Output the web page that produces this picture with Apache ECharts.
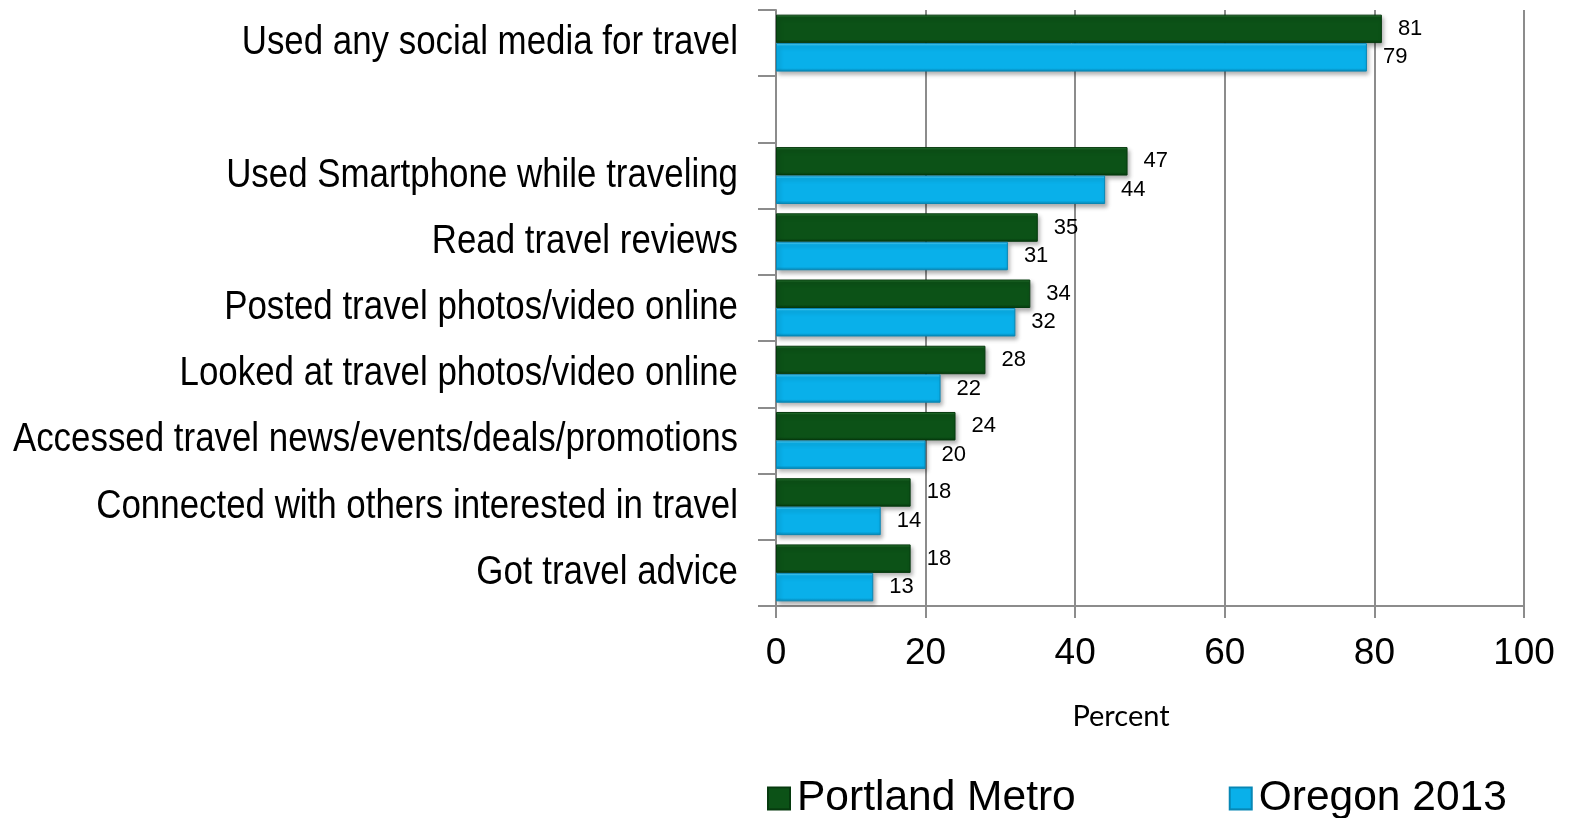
<!DOCTYPE html>
<html>
<head>
<meta charset="utf-8">
<script src="https://cdn.jsdelivr.net/npm/echarts@6/dist/echarts.min.js"></script>
<style>
  html, body { margin: 0; padding: 0; background: #fff; }
  #chart { width: 1570px; height: 818px; }
</style>
</head>
<body>
<div id="chart"></div>
<script>
// Social media use for travel, Portland Metro vs. Oregon 2013 (percent)
const categories = [
  'Used any social media for travel',
  '',
  'Used Smartphone while traveling',
  'Read travel reviews',
  'Posted travel photos/video online',
  'Looked at travel photos/video online',
  'Accessed travel news/events/deals/promotions',
  'Connected with others interested in travel',
  'Got travel advice'
];
const portlandMetro = [81, null, 47, 35, 34, 28, 24, 18, 18];
const oregon2013   = [79, null, 44, 31, 32, 22, 20, 14, 13];
const xTicks = [0, 20, 40, 60, 80, 100];

const SANS = "'Liberation Sans', Arial, sans-serif";

const chart = echarts.init(document.getElementById('chart'));

function barStyle(fill, light, dark) {
  return {
    color: new echarts.graphic.LinearGradient(0, 0, 0, 1, [
      { offset: 0, color: light },
      { offset: 0.1, color: fill },
      { offset: 0.88, color: fill },
      { offset: 1, color: dark }
    ]),
    borderColor: dark,
    borderWidth: 1,
    shadowColor: 'rgba(0,0,0,0.3)',
    shadowBlur: 4,
    shadowOffsetX: 2,
    shadowOffsetY: 3
  };
}

const valueLabel = {
  show: true,
  position: 'right',
  distance: 16,
  color: '#000',
  fontFamily: SANS,
  fontSize: 22
};

chart.setOption({
  animation: false,
  backgroundColor: '#fff',
  grid: { left: 776, right: 46, top: 10, bottom: 212, outerBoundsMode: 'none', containLabel: false },
  legend: {
    left: 762,
    top: 772,
    itemWidth: 22,
    itemHeight: 22,
    itemGap: 153,
    icon: 'rect',
    textStyle: { fontFamily: SANS, fontSize: 42.5, color: '#000', padding: [0, 0, 0, 2] },
    data: ['Portland Metro', 'Oregon 2013']
  },
  xAxis: {
    type: 'value',
    min: 0,
    max: 100,
    interval: 20,
    name: 'Percent',
    nameLocation: 'middle',
    nameGap: 96,
    nameTextStyle: { fontFamily: 'Lato, sans-serif', fontSize: 29, color: '#000', padding: [0, 58, 0, 0] },
    axisLine: { show: true, lineStyle: { color: '#8c8c8c', width: 2 } },
    axisTick: { show: true, length: 12, lineStyle: { color: '#8c8c8c', width: 2 } },
    axisLabel: {
      fontFamily: SANS,
      fontSize: 37,
      color: '#000',
      margin: 29,
      formatter: v => (xTicks.includes(v) ? String(v) : '')
    },
    splitLine: { show: true, lineStyle: { color: '#8c8c8c', width: 2 } }
  },
  yAxis: {
    type: 'category',
    inverse: true,
    data: categories,
    axisLine: { show: true, lineStyle: { color: '#8c8c8c', width: 2 } },
    axisTick: { show: true, length: 18, lineStyle: { color: '#8c8c8c', width: 2 } },
    axisLabel: { show: false },
    splitLine: { show: false }
  },
  series: [
    {
      name: 'Portland Metro',
      type: 'bar',
      data: portlandMetro,
      barGap: '0%',
      barCategoryGap: '14%',
      itemStyle: barStyle('#0c5217', '#2f7d38', '#063a0e'),
      label: valueLabel
    },
    {
      name: 'Oregon 2013',
      type: 'bar',
      data: oregon2013,
      barGap: '0%',
      barCategoryGap: '14%',
      itemStyle: barStyle('#09b0ea', '#6fd8f8', '#0787b5'),
      label: valueLabel
    }
  ]
});

// Category names in a condensed face, placed at each category's position on the y axis
const labelRight = 738;
chart.setOption({
  graphic: categories.map((name, i) => ({
    type: 'text',
    x: labelRight,
    y: chart.convertToPixel({ yAxisIndex: 0 }, i),
    scaleX: 0.872,
    silent: true,
    style: {
      text: name,
      font: "40px 'Liberation Sans', Arial, sans-serif",
      fill: '#000',
      align: 'right',
      verticalAlign: 'middle'
    }
  }))
});
</script>
</body>
</html>
